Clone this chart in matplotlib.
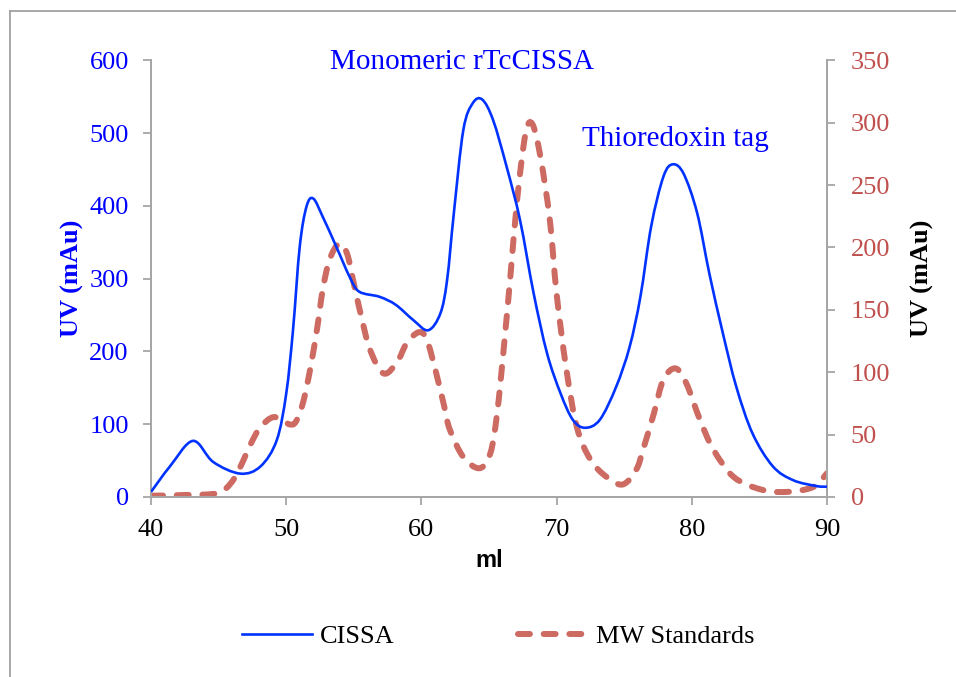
import matplotlib.pyplot as plt
from matplotlib.lines import Line2D
from matplotlib.path import Path
from matplotlib.patches import PathPatch

# elution volume (ml) and UV reading for the CISSA run (left axis)
cissa_ml = [40.0, 41.4, 43.1, 44.6, 46.6, 48.1, 49.3, 50.0, 50.5, 51.0, 51.5, 52.0,
            52.7, 53.7, 54.7, 55.4, 56.9, 58.1, 59.4, 60.5, 61.4, 61.9, 62.4, 63.1,
            63.8, 64.5, 65.3, 66.3, 67.3, 68.3, 69.3, 70.3, 71.2, 72.1, 73.2, 74.4,
            75.4, 76.2, 77.0, 77.9, 78.6, 79.4, 80.4, 81.3, 82.3, 83.3, 84.5, 86.0,
            87.5, 89.2, 90.0]
cissa_uv = [7, 42, 77, 48, 32, 42, 78, 142, 229, 344, 399, 410,
            385, 344, 302, 282, 275, 264, 243, 229, 252, 298, 390, 504,
            541, 546, 518, 454, 380, 280, 197, 142, 106, 95, 106, 151,
            206, 275, 372, 440, 457, 444, 390, 307, 225, 151, 87, 42,
            23, 15, 14]

# molecular weight standards (right axis)
mw_ml = [40.0, 42.4, 44.9, 45.9, 46.6, 47.4, 48.1, 49.1, 50.3, 50.8, 51.3, 51.8,
         52.3, 52.7, 53.2, 53.9, 54.5, 55.0, 55.5, 56.2, 57.2, 58.2, 58.9, 59.8,
         60.4, 61.1, 61.7, 62.1, 63.1, 64.3, 65.1, 65.6, 66.1, 66.6, 67.1, 67.7,
         68.2, 68.8, 69.5, 70.0, 70.7, 71.5, 72.5, 73.7, 74.9, 75.9, 76.4, 77.2,
         77.9, 78.8, 79.6, 80.6, 81.6, 83.1, 85.1, 87.0, 89.0, 90.0]
mw_uv = [1, 1.5, 3, 11, 24, 43, 56, 64, 58, 62, 78, 104,
         136, 166, 190, 203, 195, 171, 147, 118, 99, 108, 123, 132,
         126, 99, 72, 54, 32, 23, 35, 67, 120, 179, 240, 291,
         299, 273, 222, 163, 104, 56, 30, 16, 10, 22, 38, 67,
         94, 103, 91, 62, 38, 16, 6, 4, 8, 19]

left_ticks = [0, 100, 200, 300, 400, 500, 600]
right_ticks = [0, 50, 100, 150, 200, 250, 300, 350]
x_ticks = [40, 50, 60, 70, 80, 90]

blue = '#0033ff'
red = '#cd6a62'
axis_grey = '#a6a6a6'
serif = ['Liberation Serif', 'DejaVu Serif']
dash = (2.0, 2.3)


def smooth_path(xs, ys):
    # Excel style smoothed line: cubic bezier through every point
    pts = list(zip(xs, ys))
    verts = [pts[0]]
    codes = [Path.MOVETO]
    n = len(pts)
    for i in range(n - 1):
        p0 = pts[max(i - 1, 0)]
        p1 = pts[i]
        p2 = pts[i + 1]
        p3 = pts[min(i + 2, n - 1)]
        c1 = (p1[0] + (p2[0] - p0[0]) / 6, p1[1] + (p2[1] - p0[1]) / 6)
        c2 = (p2[0] - (p3[0] - p1[0]) / 6, p2[1] - (p3[1] - p1[1]) / 6)
        verts += [c1, c2, p2]
        codes += [Path.CURVE4] * 3
    return Path(verts, codes)


plt.rcParams['font.family'] = serif

fig = plt.figure(figsize=(9.56, 6.77), dpi=100)
ax = fig.add_axes([0.158, 0.266, 0.707, 0.645])
ax2 = ax.twinx()

ax.add_patch(PathPatch(smooth_path(cissa_ml, cissa_uv), fill=False,
                       edgecolor=blue, lw=1.9, zorder=3))
ax2.add_patch(PathPatch(smooth_path(mw_ml, mw_uv), fill=False, edgecolor=red,
                        lw=4.3, linestyle=(0, dash), capstyle='round', zorder=2))

ax.set_xlim(40, 90)
ax.set_ylim(0, 600)
ax2.set_ylim(0, 350)
ax.set_xticks(x_ticks)
ax.set_yticks(left_ticks)
ax2.set_yticks(right_ticks)

for a in (ax, ax2):
    a.spines['top'].set_visible(False)
    for s in ('left', 'right', 'bottom'):
        a.spines[s].set_color(axis_grey)
        a.spines[s].set_linewidth(1.3)
    a.tick_params(color=axis_grey, width=1.3, length=6, direction='out', labelsize=19)
ax.set_zorder(ax2.get_zorder() + 1)
ax.patch.set_visible(False)

ax.tick_params(axis='y', colors=axis_grey, labelcolor='#0000ff', pad=10)
ax.tick_params(axis='x', labelcolor='black', pad=10)
ax2.tick_params(axis='y', labelcolor='#c0504d', pad=11)

ax.set_ylabel('UV (mAu)', color='#0000ff', fontsize=19, fontweight='bold', labelpad=4)
ax2.set_ylabel('UV (mAu)', color='black', fontsize=19, fontweight='bold', labelpad=15)
ax.set_xlabel('ml', fontsize=17, fontweight='bold',
              family=['Liberation Sans', 'DejaVu Sans'], labelpad=6)

ax.text(63.0, 597, 'Monomeric rTcCISSA', color='#0000ff', fontsize=21,
        ha='center', va='center')
ax.text(78.8, 492, 'Thioredoxin tag', color='#0000ff', fontsize=21,
        ha='center', va='center')

handles = [Line2D([], [], color=blue, lw=1.9),
           Line2D([], [], color=red, lw=4.3, dashes=dash, dash_capstyle='round')]
fig.legend(handles, ['CISSA', 'MW Standards'], loc='center', ncol=2,
           bbox_to_anchor=(0.521, 0.06), frameon=False, fontsize=19,
           handlelength=2.65, columnspacing=4.7, handletextpad=0.3)

# light grey frame around the chart area (only top and left edges visible)
fig.add_artist(Line2D([10 / 956, 1.0], [1 - 11 / 677, 1 - 11 / 677],
                      color='#a0a0a0', lw=1.3, transform=fig.transFigure))
fig.add_artist(Line2D([10 / 956, 10 / 956], [0.0, 1 - 11 / 677],
                      color='#a0a0a0', lw=1.3, transform=fig.transFigure))

fig.savefig('out.png', dpi=100)
